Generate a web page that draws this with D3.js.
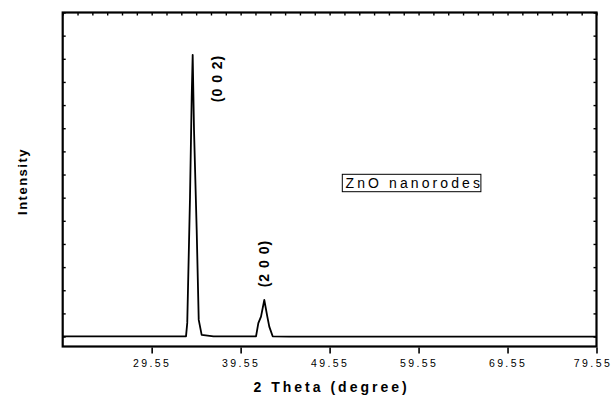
<!DOCTYPE html>
<html>
<head>
<meta charset="utf-8">
<script src="https://cdn.jsdelivr.net/npm/d3@7"></script>
<style>
	body { margin: 0; background: #fff; }
	svg { display: block; font-family: "Liberation Sans", Arial, sans-serif; }
</style>
</head>
<body>
<svg width="614" height="397"></svg>
<script>
// XRD pattern
const twoTheta = [19.55, 21.0, 23.5, 26.0, 28.5, 31.0, 33.0, 33.41, 33.55, 33.86, 34.05, 34.16, 34.31, 34.61, 34.84, 35.17,
	36.5, 38.5, 40.5, 41.28, 41.54, 41.84, 42.21, 42.55, 42.77, 43.15, 45.0, 50.0, 55.0, 60.0, 65.0, 70.0, 75.0, 79.55];
const intensity = [1, 1, 1, 1, 1, 1, 1, 1, 59, 603, 1035, 1217, 892, 461, 72, 7,
	1, 1, 1, 1, 58, 86, 158, 86, 43, 1, 0, 0, 0, 0, 0, 0, 0, 0];

const xTickValues = [29.55, 39.55, 49.55, 59.55, 69.55, 79.55];
const yTickValues = [0, 100, 200, 300, 400, 500, 600, 700, 800, 900, 1000, 1100, 1200, 1300, 1400];

const peakLabels = ['(0 0 2)', '(2 0 0)'];
const peakPos = [37.5, 42.75];
const peakLabelLevel = [1115, 315];

function loader() {
	const svg = d3.select('svg');
	const left = 62.7, right = 596.5, top = 12.5, bottom = 346.5;

	const x = d3.scaleLinear().domain([19.55, 79.55]).range([left, right]);
	const y = d3.scaleLinear().domain([-43, 1400]).range([bottom, top]);

	const minor = d3.range(19.55, 79.56, 10 / 6);

	// bottom axis, ticks outside
	const gb = svg.append('g').attr('transform', `translate(0,${bottom + 1})`);
	gb.call(d3.axisBottom(x).tickValues(minor).tickSize(4).tickFormat(''));
	gb.call(d3.axisBottom(x).tickValues(xTickValues).tickSize(6).tickPadding(6).tickFormat(d3.format('.2f')));
	gb.selectAll('.domain').remove();
	gb.selectAll('line').attr('stroke', '#000').attr('stroke-width', 1.6);
	gb.selectAll('text')
		.attr('fill', '#000')
		.attr('dx', d => d === 79.55 ? -4 : 0)
		.style('font-size', '10.5px')
		.style('letter-spacing', '2.4px');

	// top axis, small ticks inside
	const gt = svg.append('g').attr('transform', `translate(0,${top})`);
	gt.call(d3.axisBottom(x).tickValues(minor).tickSize(3).tickFormat(''));
	gt.selectAll('.domain').remove();
	gt.selectAll('line').attr('stroke', '#000').attr('stroke-width', 1.4);

	// left and right, ticks inside
	const gl = svg.append('g').attr('transform', `translate(${left},0)`);
	gl.call(d3.axisRight(y).tickValues(yTickValues).tickSize(3).tickFormat(''));
	const gr = svg.append('g').attr('transform', `translate(${right},0)`);
	gr.call(d3.axisLeft(y).tickValues(yTickValues).tickSize(3).tickFormat(''));
	svg.selectAll('g .domain').remove();
	gl.selectAll('line').attr('stroke', '#000').attr('stroke-width', 1.4);
	gr.selectAll('line').attr('stroke', '#000').attr('stroke-width', 1.4);

	// frame
	svg.append('rect')
		.attr('x', left).attr('y', top)
		.attr('width', right - left).attr('height', bottom - top)
		.attr('fill', 'none').attr('stroke', '#000').attr('stroke-width', 2.2);

	// pattern
	const line = d3.line()
		.x((d, i) => x(twoTheta[i]))
		.y(d => y(d));

	svg.append('path')
		.datum(intensity)
		.attr('d', line)
		.attr('fill', 'none')
		.attr('stroke', '#000')
		.attr('stroke-width', 1.8)
		.attr('stroke-linejoin', 'round');

	// peak labels, rotated
	svg.selectAll('.peak')
		.data(peakLabels)
		.enter()
		.append('text')
		.classed('peak', true)
		.attr('transform', (d, i) => `translate(${x(peakPos[i])},${y(peakLabelLevel[i])}) rotate(-90)`)
		.attr('text-anchor', 'middle')
		.style('font-size', '14px')
		.style('font-weight', 'bold')
		.style('letter-spacing', '1px')
		.text(d => d);

	// legend box
	const lg = svg.append('text')
		.attr('x', 345.5).attr('y', 188)
		.style('font-size', '14px')
		.style('letter-spacing', '3.1px')
		.text('ZnO nanorodes');
	const bb = lg.node().getBBox();
	svg.append('rect')
		.attr('x', 342.3).attr('y', 174.3)
		.attr('width', bb.width + 1).attr('height', 17.4)
		.attr('fill', 'none').attr('stroke', '#000').attr('stroke-width', 1);

	// axis titles
	svg.append('text')
		.attr('x', (left + right) / 2 + 2).attr('y', 392)
		.attr('text-anchor', 'middle')
		.style('font-size', '14px')
		.style('font-weight', 'bold')
		.style('letter-spacing', '3px')
		.text('2 Theta (degree)');

	svg.append('text')
		.attr('transform', `translate(26.5,${(top + bottom) / 2 + 2}) rotate(-90)`)
		.attr('text-anchor', 'middle')
		.style('font-size', '13px')
		.style('font-weight', 'bold')
		.style('letter-spacing', '1.5px')
		.text('Intensity');
}
window.addEventListener('load', loader);
</script>
</body>
</html>
